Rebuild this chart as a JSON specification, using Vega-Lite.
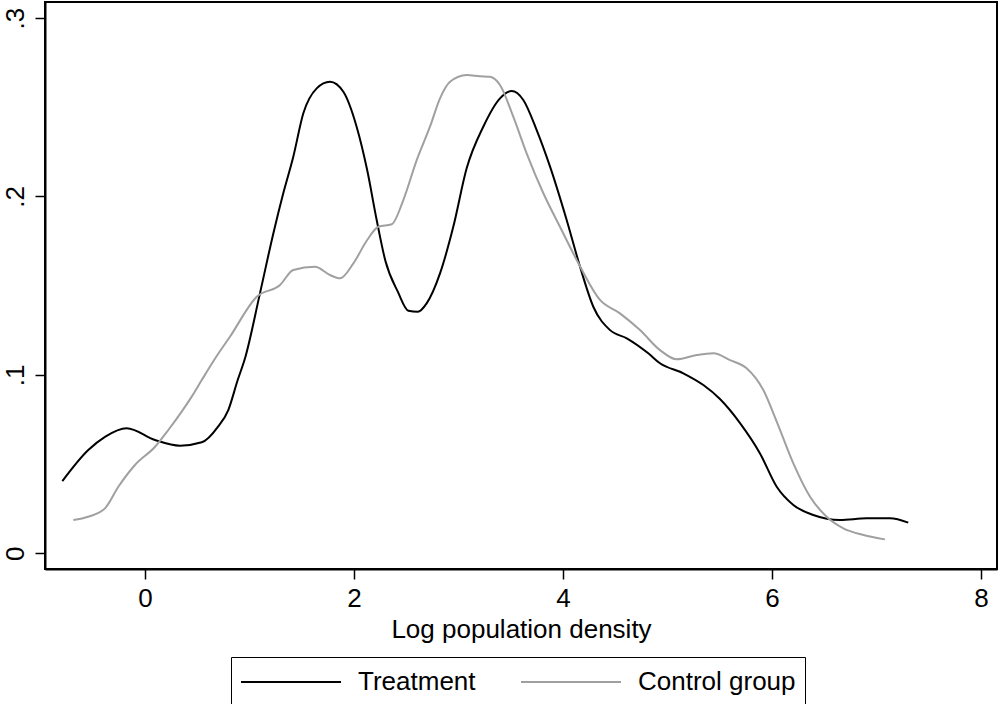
{
  "$schema": "https://vega.github.io/schema/vega-lite/v6.json",
  "width": 952,
  "height": 567,
  "autosize": {"type": "none"},
  "padding": {"left": 45, "top": 2, "right": 1, "bottom": 135},
  "background": "white",
  "config": {
    "font": "Liberation Sans",
    "view": {"stroke": "#000000", "strokeWidth": 2},
    "axis": {"grid": false, "domainColor": "#000000", "domainWidth": 2, "tickColor": "#000000", "tickWidth": 1.5, "tickSize": 10, "labelColor": "#000000", "labelFontSize": 26, "titleColor": "#000000", "titleFontSize": 26, "titleFontWeight": "normal", "labelFont": "Liberation Sans", "titleFont": "Liberation Sans"}
  },
  "data": {"values": [
    {"x": -0.791, "y": 0.0405, "g": "Treatment"},
    {"x": -0.543, "y": 0.0579, "g": "Treatment"},
    {"x": -0.383, "y": 0.0653, "g": "Treatment"},
    {"x": -0.175, "y": 0.0701, "g": "Treatment"},
    {"x": 0.096, "y": 0.0635, "g": "Treatment"},
    {"x": 0.335, "y": 0.0603, "g": "Treatment"},
    {"x": 0.543, "y": 0.0622, "g": "Treatment"},
    {"x": 0.699, "y": 0.0710, "g": "Treatment"},
    {"x": 0.797, "y": 0.0803, "g": "Treatment"},
    {"x": 0.887, "y": 0.0971, "g": "Treatment"},
    {"x": 0.957, "y": 0.1093, "g": "Treatment"},
    {"x": 1.100, "y": 0.1457, "g": "Treatment"},
    {"x": 1.228, "y": 0.1793, "g": "Treatment"},
    {"x": 1.323, "y": 0.2018, "g": "Treatment"},
    {"x": 1.419, "y": 0.2223, "g": "Treatment"},
    {"x": 1.515, "y": 0.2466, "g": "Treatment"},
    {"x": 1.643, "y": 0.2606, "g": "Treatment"},
    {"x": 1.770, "y": 0.2643, "g": "Treatment"},
    {"x": 1.898, "y": 0.2587, "g": "Treatment"},
    {"x": 2.025, "y": 0.2391, "g": "Treatment"},
    {"x": 2.126, "y": 0.2148, "g": "Treatment"},
    {"x": 2.217, "y": 0.1868, "g": "Treatment"},
    {"x": 2.300, "y": 0.1640, "g": "Treatment"},
    {"x": 2.420, "y": 0.1465, "g": "Treatment"},
    {"x": 2.520, "y": 0.1360, "g": "Treatment"},
    {"x": 2.610, "y": 0.1354, "g": "Treatment"},
    {"x": 2.695, "y": 0.1401, "g": "Treatment"},
    {"x": 2.823, "y": 0.1569, "g": "Treatment"},
    {"x": 2.950, "y": 0.1830, "g": "Treatment"},
    {"x": 3.078, "y": 0.2158, "g": "Treatment"},
    {"x": 3.237, "y": 0.2391, "g": "Treatment"},
    {"x": 3.397, "y": 0.2550, "g": "Treatment"},
    {"x": 3.509, "y": 0.2591, "g": "Treatment"},
    {"x": 3.620, "y": 0.2541, "g": "Treatment"},
    {"x": 3.748, "y": 0.2372, "g": "Treatment"},
    {"x": 3.876, "y": 0.2167, "g": "Treatment"},
    {"x": 4.035, "y": 0.1868, "g": "Treatment"},
    {"x": 4.163, "y": 0.1606, "g": "Treatment"},
    {"x": 4.290, "y": 0.1382, "g": "Treatment"},
    {"x": 4.450, "y": 0.1251, "g": "Treatment"},
    {"x": 4.610, "y": 0.1205, "g": "Treatment"},
    {"x": 4.816, "y": 0.1121, "g": "Treatment"},
    {"x": 4.928, "y": 0.1065, "g": "Treatment"},
    {"x": 5.151, "y": 0.1009, "g": "Treatment"},
    {"x": 5.343, "y": 0.0943, "g": "Treatment"},
    {"x": 5.502, "y": 0.0865, "g": "Treatment"},
    {"x": 5.694, "y": 0.0730, "g": "Treatment"},
    {"x": 5.885, "y": 0.0560, "g": "Treatment"},
    {"x": 6.045, "y": 0.0373, "g": "Treatment"},
    {"x": 6.204, "y": 0.0271, "g": "Treatment"},
    {"x": 6.395, "y": 0.0215, "g": "Treatment"},
    {"x": 6.651, "y": 0.0187, "g": "Treatment"},
    {"x": 6.906, "y": 0.0196, "g": "Treatment"},
    {"x": 7.129, "y": 0.0196, "g": "Treatment"},
    {"x": 7.304, "y": 0.0172, "g": "Treatment"},
    {"x": -0.686, "y": 0.0187, "g": "Control group"},
    {"x": -0.543, "y": 0.0205, "g": "Control group"},
    {"x": -0.383, "y": 0.0252, "g": "Control group"},
    {"x": -0.255, "y": 0.0373, "g": "Control group"},
    {"x": -0.096, "y": 0.0495, "g": "Control group"},
    {"x": 0.096, "y": 0.0597, "g": "Control group"},
    {"x": 0.223, "y": 0.0691, "g": "Control group"},
    {"x": 0.351, "y": 0.0794, "g": "Control group"},
    {"x": 0.447, "y": 0.0878, "g": "Control group"},
    {"x": 0.543, "y": 0.0971, "g": "Control group"},
    {"x": 0.680, "y": 0.1100, "g": "Control group"},
    {"x": 0.813, "y": 0.1214, "g": "Control group"},
    {"x": 1.069, "y": 0.1438, "g": "Control group"},
    {"x": 1.292, "y": 0.1504, "g": "Control group"},
    {"x": 1.419, "y": 0.1588, "g": "Control group"},
    {"x": 1.627, "y": 0.1606, "g": "Control group"},
    {"x": 1.770, "y": 0.1560, "g": "Control group"},
    {"x": 1.866, "y": 0.1541, "g": "Control group"},
    {"x": 1.994, "y": 0.1625, "g": "Control group"},
    {"x": 2.126, "y": 0.1756, "g": "Control group"},
    {"x": 2.233, "y": 0.1830, "g": "Control group"},
    {"x": 2.361, "y": 0.1844, "g": "Control group"},
    {"x": 2.472, "y": 0.1980, "g": "Control group"},
    {"x": 2.600, "y": 0.2204, "g": "Control group"},
    {"x": 2.727, "y": 0.2391, "g": "Control group"},
    {"x": 2.823, "y": 0.2550, "g": "Control group"},
    {"x": 2.919, "y": 0.2643, "g": "Control group"},
    {"x": 3.078, "y": 0.2681, "g": "Control group"},
    {"x": 3.206, "y": 0.2674, "g": "Control group"},
    {"x": 3.301, "y": 0.2671, "g": "Control group"},
    {"x": 3.397, "y": 0.2625, "g": "Control group"},
    {"x": 3.524, "y": 0.2447, "g": "Control group"},
    {"x": 3.652, "y": 0.2242, "g": "Control group"},
    {"x": 3.812, "y": 0.2018, "g": "Control group"},
    {"x": 3.971, "y": 0.1830, "g": "Control group"},
    {"x": 4.131, "y": 0.1644, "g": "Control group"},
    {"x": 4.354, "y": 0.1420, "g": "Control group"},
    {"x": 4.545, "y": 0.1345, "g": "Control group"},
    {"x": 4.737, "y": 0.1251, "g": "Control group"},
    {"x": 4.928, "y": 0.1139, "g": "Control group"},
    {"x": 5.088, "y": 0.1087, "g": "Control group"},
    {"x": 5.279, "y": 0.1111, "g": "Control group"},
    {"x": 5.439, "y": 0.1121, "g": "Control group"},
    {"x": 5.598, "y": 0.1083, "g": "Control group"},
    {"x": 5.757, "y": 0.1037, "g": "Control group"},
    {"x": 5.917, "y": 0.0915, "g": "Control group"},
    {"x": 6.045, "y": 0.0738, "g": "Control group"},
    {"x": 6.204, "y": 0.0504, "g": "Control group"},
    {"x": 6.364, "y": 0.0317, "g": "Control group"},
    {"x": 6.523, "y": 0.0205, "g": "Control group"},
    {"x": 6.683, "y": 0.0140, "g": "Control group"},
    {"x": 6.875, "y": 0.0103, "g": "Control group"},
    {"x": 7.081, "y": 0.0078, "g": "Control group"}
  ]},
  "mark": {"type": "line", "interpolate": "monotone", "strokeWidth": 2, "clip": true},
  "encoding": {
    "x": {
      "field": "x", "type": "quantitative",
      "scale": {"domain": [-0.957, 8.153], "nice": false, "zero": false},
      "axis": {"values": [0, 2, 4, 6, 8], "title": "Log population density", "labelPadding": 6, "titlePadding": 5, "labelFlush": false, "labelOverlap": false}
    },
    "y": {
      "field": "y", "type": "quantitative",
      "scale": {"domain": [-0.0088, 0.309], "nice": false, "zero": false},
      "axis": {"values": [0, 0.1, 0.2, 0.3], "title": null, "labelAngle": -90, "labelAlign": "center", "labelBaseline": "alphabetic", "labelPadding": 12, "labelFlush": false, "labelOverlap": false,
        "labelExpr": "datum.value == 0 ? '0' : replace(format(datum.value, '.1f'), '0.', '.')"}
    },
    "color": {
      "field": "g", "type": "nominal",
      "scale": {"domain": ["Treatment", "Control group"], "range": ["#000000", "#a0a0a0"]},
      "legend": {"title": null, "orient": "none", "legendX": 186, "legendY": 655, "direction": "horizontal",
        "strokeColor": "#000000", "fillColor": "#ffffff", "padding": 9, "symbolType": "M-1,0H5.667", "symbolSize": 900, "symbolStrokeWidth": 2, "symbolFillColor": "transparent",
        "labelFontSize": 26, "labelColor": "#000000", "labelFont": "Liberation Sans", "labelOffset": 86, "columnPadding": 41}
    }
  }
}
